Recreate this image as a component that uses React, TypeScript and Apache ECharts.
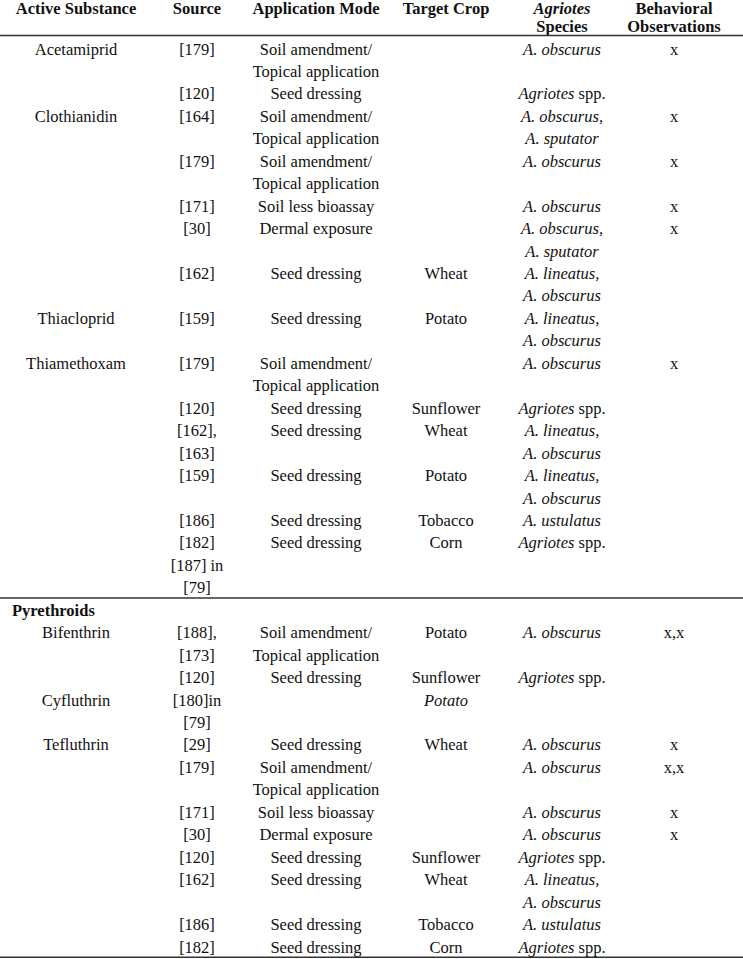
import React, { useEffect, useRef } from "react";
import * as echarts from "echarts";

// ---------- data ----------
const headerTop = ["Active Substance", "Source", "Application Mode", "Target Crop", "Agriotes", "Behavioral"];
const headerBottom = ["", "", "", "", "Species", "Observations"];

// Neonicotinoid rows (section without a group title)
const neoSubstance = ["Acetamiprid", "", "Clothianidin", "", "", "", "", "Thiacloprid", "Thiamethoxam", "", "", "", "", ""];
const neoSource = ["[179]", "[120]", "[164]", "[179]", "[171]", "[30]", "[162]", "[159]", "[179]", "[120]", "[162],\n[163]", "[159]", "[186]", "[182]\n[187] in\n[79]"];
const neoMode = ["Soil amendment/\nTopical application", "Seed dressing", "Soil amendment/\nTopical application", "Soil amendment/\nTopical application", "Soil less bioassay", "Dermal exposure", "Seed dressing", "Seed dressing", "Soil amendment/\nTopical application", "Seed dressing", "Seed dressing", "Seed dressing", "Seed dressing", "Seed dressing"];
const neoCrop = ["", "", "", "", "", "", "Wheat", "Potato", "", "Sunflower", "Wheat", "Potato", "Tobacco", "Corn"];
const neoSpecies = ["A. obscurus", "Agriotes spp.", "A. obscurus,\nA. sputator", "A. obscurus", "A. obscurus", "A. obscurus,\nA. sputator", "A. lineatus,\nA. obscurus", "A. lineatus,\nA. obscurus", "A. obscurus", "Agriotes spp.", "A. lineatus,\nA. obscurus", "A. lineatus,\nA. obscurus", "A. ustulatus", "Agriotes spp."];
const neoBehavior = ["x", "", "x", "x", "x", "x", "", "", "x", "", "", "", "", ""];

const groupTitle = "Pyrethroids";
const pyrSubstance = ["Bifenthrin", "", "Cyfluthrin", "Tefluthrin", "", "", "", "", "", "", ""];
const pyrSource = ["[188],\n[173]", "[120]", "[180]in\n[79]", "[29]", "[179]", "[171]", "[30]", "[120]", "[162]", "[186]", "[182]"];
const pyrMode = ["Soil amendment/\nTopical application", "Seed dressing", "", "Seed dressing", "Soil amendment/\nTopical application", "Soil less bioassay", "Dermal exposure", "Seed dressing", "Seed dressing", "Seed dressing", "Seed dressing"];
const pyrCrop = ["Potato", "Sunflower", "Potato", "Wheat", "", "", "", "Sunflower", "Wheat", "Tobacco", "Corn"];
const pyrCropItalic = [false, false, true, false, false, false, false, false, false, false, false];
const pyrSpecies = ["A. obscurus", "Agriotes spp.", "", "A. obscurus", "A. obscurus", "A. obscurus", "A. obscurus", "Agriotes spp.", "A. lineatus,\nA. obscurus", "A. ustulatus", "Agriotes spp."];
const pyrBehavior = ["x,x", "", "", "x", "x,x", "x", "x", "", "", "", ""];

// ---------- layout ----------
const W = 743;
const H = 959;
const FONT = '"Liberation Serif", "Times New Roman", serif';
const FS = 16.5;
const LINE = 22.45;
const Y0 = 49;
const COLX = [76, 197, 316, 446, 562, 674];
const INK = "#111";

const lineY = (i: number) => Y0 + LINE * i;

function txt(text: string, x: number, y: number, extra: any = {}) {
  return {
    type: "text",
    x,
    y,
    silent: true,
    style: {
      text,
      fill: INK,
      fontFamily: FONT,
      fontSize: FS,
      align: "center",
      verticalAlign: "middle",
      ...extra,
    },
  };
}

function speciesText(s: string, x: number, y: number) {
  const rich = {
    i: { fontStyle: "italic", fontFamily: FONT, fontSize: FS, fill: INK },
    n: { fontFamily: FONT, fontSize: FS, fill: INK },
  };
  let t: string;
  if (s.endsWith(" spp.")) t = `{i|${s.slice(0, -5)}}{n| spp.}`;
  else t = `{i|${s}}`;
  return txt(t, x, y, { rich });
}

function buildSection(
  start: number,
  cols: string[][],
  cropItalic: boolean[] | null,
  out: any[]
) {
  let line = start;
  const n = cols[0].length;
  for (let r = 0; r < n; r++) {
    let maxLines = 1;
    cols.forEach((col, c) => {
      const parts = col[r] ? col[r].split("\n") : [];
      maxLines = Math.max(maxLines, parts.length);
      parts.forEach((p, k) => {
        const y = lineY(line + k);
        if (c === 4) out.push(speciesText(p, COLX[c], y));
        else if (c === 3 && cropItalic && cropItalic[r]) out.push(txt(p, COLX[c], y, { fontStyle: "italic" }));
        else out.push(txt(p, COLX[c], y));
      });
    });
    line += maxLines;
  }
  return line;
}

function buildGraphics() {
  const g: any[] = [];
  // header
  headerTop.forEach((h, c) => {
    g.push(txt(h, COLX[c], 8.5, { fontWeight: "bold", fontStyle: c === 4 ? "italic" : "normal" }));
  });
  headerBottom.forEach((h, c) => {
    if (h) g.push(txt(h, COLX[c], lineY(-1), { fontWeight: "bold" }));
  });
  // rules
  const rule = (y: number) => ({
    type: "line",
    silent: true,
    shape: { x1: 0, y1: y, x2: W, y2: y },
    style: { stroke: "#333", lineWidth: 1.5 },
  });
  g.push(rule(35.5));

  let next = buildSection(0, [neoSubstance, neoSource, neoMode, neoCrop, neoSpecies, neoBehavior], null, g);
  g.push(rule(lineY(next - 0.5) - 1));
  g.push(txt(groupTitle, 12, lineY(next), { fontWeight: "bold", align: "left" }));
  next += 1;
  next = buildSection(next, [pyrSubstance, pyrSource, pyrMode, pyrCrop, pyrSpecies, pyrBehavior], pyrCropItalic, g);
  g.push(rule(lineY(next - 0.5) - 1));
  return g;
}

export default function App() {
  const ref = useRef<HTMLDivElement>(null);
  useEffect(() => {
    if (!ref.current) return;
    const chart = echarts.init(ref.current, undefined, { renderer: "svg", width: W, height: H });
    chart.setOption({
      animation: false,
      backgroundColor: "#ffffff",
      graphic: { elements: buildGraphics() },
    });
    return () => chart.dispose();
  }, []);
  return (
    <div
      ref={ref}
      style={{ position: "absolute", left: 0, top: 0, width: W, height: H, background: "#fff" }}
    />
  );
}
